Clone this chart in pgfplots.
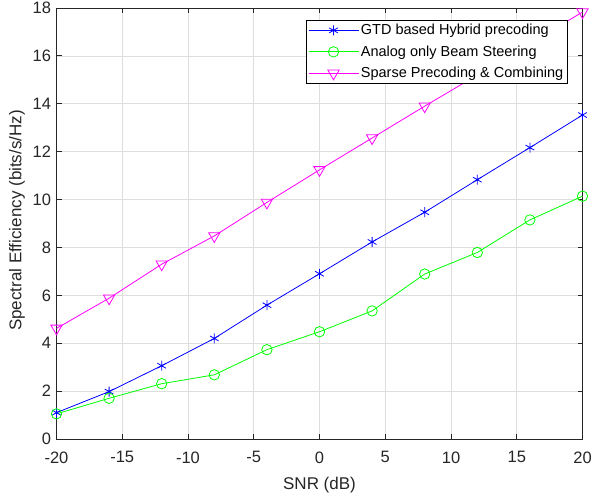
\documentclass[border=0pt]{standalone}
\usepackage{fontspec}
\setmainfont{Liberation Sans}
\usepackage{pgfplots}
\pgfplotsset{compat=1.18}

\definecolor{axgray}{RGB}{38,38,38}
\definecolor{gridgray}{RGB}{222,222,222}
\definecolor{mblue}{RGB}{0,0,255}
\definecolor{mgreen}{RGB}{0,255,0}
\definecolor{mmag}{RGB}{255,0,255}

\begin{document}
\begin{tikzpicture}[x=1bp,y=1bp]
\useasboundingbox (-56.5bp,-60bp) rectangle (536.5bp,439bp);
\begin{axis}[
  at={(0,0)}, anchor=south west,
  scale only axis,
  width=526bp, height=431bp,
  xmin=-20, xmax=20, ymin=0, ymax=18,
  xtick={-20,-15,...,20},
  ytick={0,2,...,18},
  grid=major,
  major grid style={gridgray, line width=0.6bp},
  axis line style={axgray, line width=0.8bp},
  tick style={axgray, line width=0.8bp},
  major tick length=5bp,
  tick align=inside,
  ticklabel style={text=axgray, font=\fontsize{16.5bp}{19bp}\selectfont},
  yticklabel style={xshift=-2bp},
  xticklabel style={yshift=-9bp},
  /pgf/number format/assume math mode=true,
  xlabel={SNR (dB)},
  ylabel={Spectral Efficiency (bits/s/Hz)},
  every axis x label/.style={at={(axis description cs:0.5,0)}, yshift=-46bp,
    anchor=center, text=axgray, font=\fontsize{17bp}{19bp}\selectfont},
  every axis y label/.style={at={(axis description cs:0,0.5)}, xshift=-39.5bp,
    yshift=3bp, rotate=90, anchor=center, text=axgray,
    font=\fontsize{17bp}{19bp}\selectfont},
  legend style={at={(0.9715,0.972)}, anchor=north east, draw=black,
    line width=0.6bp, font=\fontsize{14.5bp}{17bp}\selectfont,
    row sep=5.5bp, inner sep=2bp},
  legend cell align=left,
  legend image code/.code={%
    \draw[mark repeat=2,mark phase=2] plot coordinates {(0bp,0bp) (25bp,0bp) (50bp,0bp)};},
  every axis plot/.append style={line width=0.8bp},
]
\addplot[mblue, mark=asterisk, mark size=5bp] coordinates {
  (-20,1.10) (-16,1.98) (-12,3.06) (-8,4.20) (-4,5.59) (0,6.90)
  (4,8.23) (8,9.47) (12,10.83) (16,12.17) (20,13.53)
};
\addlegendentry{GTD based Hybrid precoding}
\addplot[mgreen, mark=o, mark size=5.2bp] coordinates {
  (-20,1.05) (-16,1.70) (-12,2.31) (-8,2.68) (-4,3.73) (0,4.48)
  (4,5.35) (8,6.89) (12,7.79) (16,9.15) (20,10.14)
};
\addlegendentry{ Analog only Beam Steering}
\addplot[mmag, mark=triangle, mark size=6.5bp,
  every mark/.append style={rotate=180}] coordinates {
  (-20,4.62) (-16,5.88) (-12,7.30) (-8,8.48) (-4,9.88) (0,11.24)
  (4,12.57) (8,13.90) (12,15.20) (16,16.52) (20,17.83)
};
\addlegendentry{Sparse Precoding \& Combining}
\end{axis}
\end{tikzpicture}
\end{document}
